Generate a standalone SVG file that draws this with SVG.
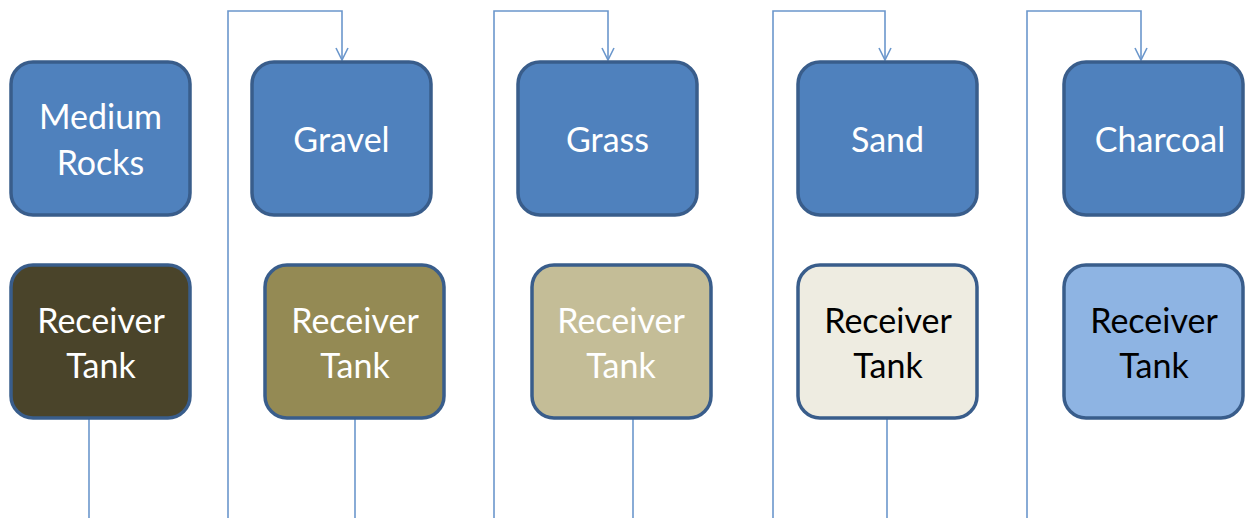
<svg xmlns="http://www.w3.org/2000/svg" width="1257" height="518" viewBox="0 0 1257 518">
<defs>
<style>
.n{stroke:#395d8b;stroke-width:3.5}
.f{fill:#4f81bd}
.t{font-family:Lato,"Open Sans",sans-serif;font-size:34px;text-anchor:middle}
.w{fill:#fff}
.k{fill:#000}
.c{fill:none;stroke:#6b97cc;stroke-width:1.6}
</style>
<marker id="a" markerWidth="14" markerHeight="14" refX="13" refY="7" orient="auto" markerUnits="userSpaceOnUse" viewBox="0 0 14 14">
<path d="M1,1 L13,7 L1,13" fill="none" stroke="#6b97cc" stroke-width="1.6"/>
</marker>
</defs>
<rect width="1257" height="518" fill="#fff"/>
<g id="connectors">
<path class="c" d="M228,518 V11 H342 V60" marker-end="url(#a)"/>
<path class="c" d="M494,518 V11 H608 V60" marker-end="url(#a)"/>
<path class="c" d="M773,518 V11 H885 V60" marker-end="url(#a)"/>
<path class="c" d="M1027,518 V11 H1141 V60" marker-end="url(#a)"/>
<path class="c" d="M89,418 V518"/>
<path class="c" d="M355,418 V518"/>
<path class="c" d="M633,418 V518"/>
<path class="c" d="M887,418 V518"/>
</g>
<g id="medium-rocks"><rect class="n f" x="11" y="62" width="179" height="153" rx="22"/><text class="t w" x="100.5" y="129">Medium</text><text class="t w" x="100.5" y="175">Rocks</text></g>
<g id="gravel"><rect class="n f" x="252" y="62" width="179" height="153" rx="22"/><text class="t w" x="341.5" y="152">Gravel</text></g>
<g id="grass"><rect class="n f" x="518" y="62" width="179" height="153" rx="22"/><text class="t w" x="607.5" y="152">Grass</text></g>
<g id="sand"><rect class="n f" x="798" y="62" width="179" height="153" rx="22"/><text class="t w" x="887.5" y="152">Sand</text></g>
<g id="charcoal"><rect class="n f" x="1064" y="62" width="179" height="153" rx="22"/><text class="t w" x="1160" y="152">Charcoal</text></g>
<g id="tank1"><rect class="n" fill="#4a442a" x="11" y="265" width="179" height="153" rx="22"/><text class="t w" x="101" y="333">Receiver</text><text class="t w" x="101" y="378">Tank</text></g>
<g id="tank2"><rect class="n" fill="#948a54" x="265" y="265" width="179" height="153" rx="22"/><text class="t w" x="355" y="333">Receiver</text><text class="t w" x="355" y="378">Tank</text></g>
<g id="tank3"><rect class="n" fill="#c4bd97" x="532" y="265" width="179" height="153" rx="22"/><text class="t w" x="621" y="333">Receiver</text><text class="t w" x="621" y="378">Tank</text></g>
<g id="tank4"><rect class="n" fill="#eeece1" x="798" y="265" width="179" height="153" rx="22"/><text class="t k" x="888" y="333">Receiver</text><text class="t k" x="888" y="378">Tank</text></g>
<g id="tank5"><rect class="n" fill="#8eb4e3" x="1064" y="265" width="179" height="153" rx="22"/><text class="t k" x="1154" y="333">Receiver</text><text class="t k" x="1154" y="378">Tank</text></g>
</svg>
